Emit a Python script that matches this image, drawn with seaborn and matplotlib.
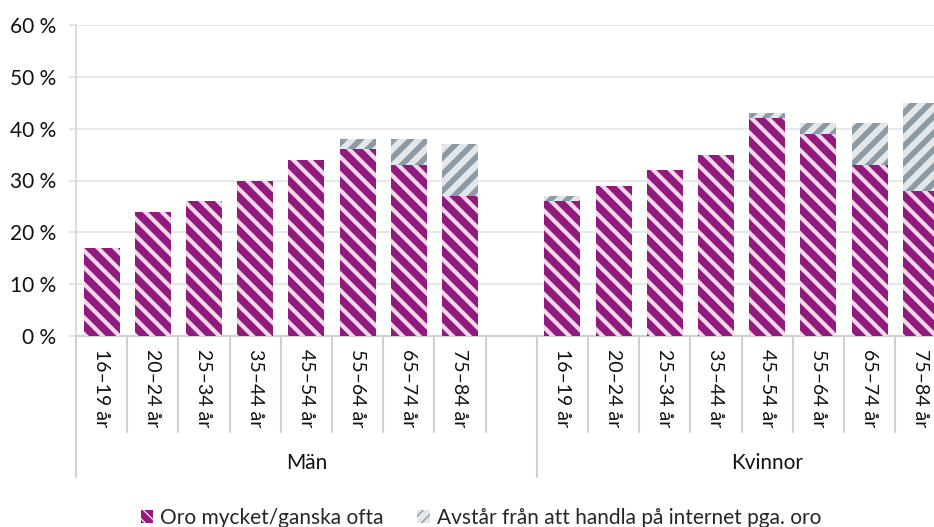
import matplotlib
matplotlib.use("Agg")
import matplotlib.pyplot as plt
from matplotlib.patches import Patch
import matplotlib.ticker as mticker
import seaborn as sns
import pandas as pd

# ---- data ----
groups = ["Män", "Kvinnor"]
ages = ["16–19 år", "20–24 år", "25–34 år", "35–44 år", "45–54 år", "55–64 år", "65–74 år", "75–84 år"]
oro_man = [17, 24, 26, 30, 34, 36, 33, 27]
avstar_man = [0, 0, 0, 0, 0, 2, 5, 10]
oro_kvinnor = [26, 29, 32, 35, 42, 39, 33, 28]
avstar_kvinnor = [1, 0, 0, 0, 1, 2, 8, 17]
series_names = ["Oro mycket/ganska ofta", "Avstår från att handla på internet pga. oro"]
yticks = [0, 10, 20, 30, 40, 50, 60]

MAGENTA = "#911a7e"
PINK = "#f4d8ea"
GRAYBG = "#e3e7ea"
GRAYST = "#8b9aa5"
FONT = ["Lato", "DejaVu Sans"]

sns.set_theme(style="white")
plt.rcParams["font.family"] = FONT

rows = []
order = []
for g, oro, av in [("M", oro_man, avstar_man), ("K", oro_kvinnor, avstar_kvinnor)]:
    for i, a in enumerate(ages):
        key = f"{g}{i}"
        order.append(key)
        rows.append({"key": key, "oro": oro[i], "total": oro[i] + av[i]})
    order.append(f"{g}_gap")
df = pd.DataFrame(rows)

fig = plt.figure(figsize=(9.34, 5.27), dpi=100)
slot = 51.2
ax = fig.add_axes([76 / 934, (527 - 336) / 527, 18 * slot / 934, 311 / 527])

with plt.rc_context({"hatch.linewidth": 4.0}):
    sns.barplot(data=df, x="key", y="total", order=order, color=GRAYBG, saturation=1,
                width=0.70, ax=ax, zorder=3)
with plt.rc_context({"hatch.linewidth": 3.0}):
    sns.barplot(data=df, x="key", y="oro", order=order, color=MAGENTA, saturation=1,
                width=0.70, ax=ax, zorder=4)

for cont, face, hcol, hatch, hlw in [(ax.containers[0], GRAYBG, GRAYST, "//", 4.0),
                                      (ax.containers[1], MAGENTA, PINK, "\\\\", 3.0)]:
    for p in cont:
        p.set_facecolor(face)
        p.set_edgecolor(hcol)
        p.set_linewidth(0)
        p.set_hatch(hatch)
        if hasattr(p, "set_hatch_linewidth"):
            p.set_hatch_linewidth(hlw)

ax.set_xlim(-0.5, 17.5)
ax.set_ylim(0, 60)
ax.set_yticks(yticks)
ax.yaxis.set_major_formatter(mticker.FuncFormatter(lambda v, p: f"{int(v)} %"))
ax.set_xticks([])
ax.set_xlabel("")
ax.set_ylabel("")
ax.grid(axis="y", color="#e4e4e4", linewidth=1.2, zorder=0)
ax.set_axisbelow(True)
for s in ["top", "right"]:
    ax.spines[s].set_visible(False)
ax.spines["left"].set_color("#d6d6d6")
ax.spines["left"].set_linewidth(1.2)
ax.spines["bottom"].set_color("#d0d0d0")
ax.spines["bottom"].set_linewidth(1.5)
ax.tick_params(axis="y", length=5, width=1.2, color="#e0e0e0", pad=9, labelsize=15,
               labelcolor="#111111", left=True)

# category labels and separators below the axis
H = 311.0
short_y = -(432 - 336) / H
long_y = -(477 - 336) / H
lab_y = -(349 - 336) / H
grp_y = -(463 - 336) / H
sep_kw = dict(color="#d0d0d0", linewidth=1.5, clip_on=False, transform=ax.get_xaxis_transform())
for gi, g in enumerate(groups):
    base = gi * 9
    for i, a in enumerate(ages):
        ax.text(base + i, lab_y, a, rotation=270, ha="center", va="top", fontsize=14,
                color="#111111", transform=ax.get_xaxis_transform())
    for b in range(9):
        xb = base + b - 0.5
        ax.plot([xb, xb], [0, long_y if b == 0 else short_y], **sep_kw)
    ax.text(base + 4, grp_y, g, ha="center", va="center", fontsize=15, color="#111111",
            transform=ax.get_xaxis_transform())

handles = [Patch(facecolor=MAGENTA, edgecolor=PINK, hatch="\\\\\\", linewidth=0, label=series_names[0]),
           Patch(facecolor=GRAYBG, edgecolor=GRAYST, hatch="///", linewidth=0, label=series_names[1])]
fig.legend(handles=handles, loc="center", bbox_to_anchor=(481 / 934, 1 - 518 / 527), ncol=2,
           frameon=False, fontsize=15, handlelength=0.6, handleheight=0.6, handletextpad=0.35,
           columnspacing=1.6, borderaxespad=0, borderpad=0)

fig.savefig("out.png", dpi=100)
